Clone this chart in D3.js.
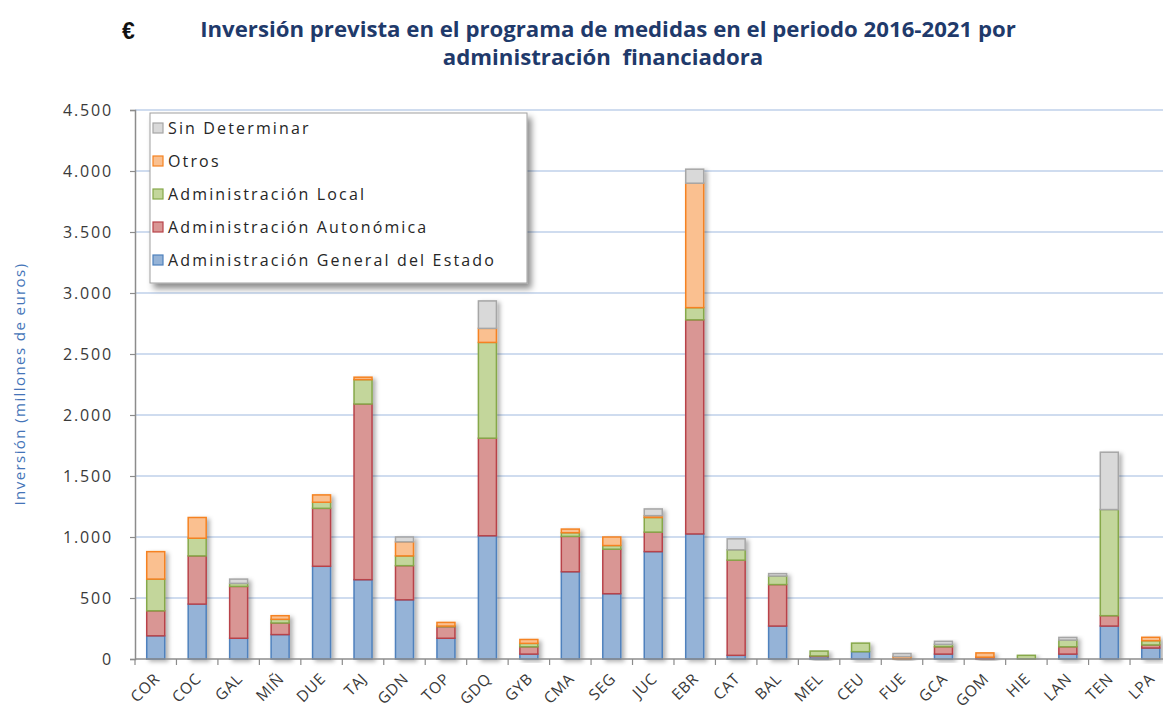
<!DOCTYPE html>
<html><head><meta charset="utf-8">
<script src="https://cdn.jsdelivr.net/npm/d3@7"></script>
<style>body{margin:0;background:#fff}svg{display:block}</style>
</head><body>
<svg id="chart" width="1163" height="713"></svg>
<script>
// Cuencas / demarcaciones
const categories = ["COR","COC","GAL","MIÑ","DUE","TAJ","GDN","TOP","GDQ","GYB","CMA","SEG","JUC","EBR","CAT","BAL","MEL","CEU","FUE","GCA","GOM","HIE","LAN","TEN","LPA"];

// Inversión prevista 2016-2021 (millones de euros) por administración financiadora
const estado      = [190, 450, 170, 200, 760, 650, 485, 170, 1010, 40, 715, 535, 880, 1025, 30, 270, 20, 60, 0, 40, 0, 0, 40, 270, 90];
const autonomica  = [205, 395, 425, 95, 475, 1440, 280, 95, 800, 60, 290, 365, 160, 1755, 780, 340, 5, 0, 0, 60, 15, 0, 60, 85, 25];
const local       = [260, 145, 25, 30, 50, 200, 80, 5, 785, 28, 30, 30, 120, 100, 85, 70, 40, 70, 0, 20, 0, 30, 55, 870, 35];
const otros       = [225, 170, 0, 30, 60, 20, 115, 30, 115, 32, 30, 70, 15, 1020, 0, 0, 0, 0, 20, 0, 35, 0, 0, 0, 28];
const sinDeterminar = [0, 0, 35, 0, 0, 0, 40, 0, 225, 0, 0, 0, 55, 115, 90, 20, 0, 0, 25, 25, 0, 0, 22, 470, 0];

const seriesKeys = ["estado","autonomica","local","otros","sinDet"];
const seriesLabels = ["Administración General del Estado","Administración Autonómica","Administración Local","Otros","Sin Determinar"];
const fills   = ["#95B3D7","#D99694","#C3D69B","#FAC090","#D9D9D9"];
const strokes = ["#4F81BD","#B8434A","#86A84A","#F58220","#A6A6A6"];

const yTicks = [0,500,1000,1500,2000,2500,3000,3500,4000,4500];
const titleLines = ["Inversión prevista en el programa de medidas en el periodo 2016-2021 por","administración  financiadora"];
const yTitle = "Inversión (millones de euros)";

const FONT = "Open Sans, sans-serif";
const svg = d3.select("#chart");
const defs = svg.append("defs");
defs.append("filter").attr("id","barShadow").attr("x","-30%").attr("y","-10%").attr("width","180%").attr("height","130%")
  .append("feDropShadow").attr("dx",3).attr("dy",2).attr("stdDeviation",2)
  .attr("flood-color","#000").attr("flood-opacity",0.3);
defs.append("filter").attr("id","legendShadow").attr("x","-10%").attr("y","-10%").attr("width","130%").attr("height","140%")
  .append("feDropShadow").attr("dx",4).attr("dy",5).attr("stdDeviation",3)
  .attr("flood-color","#000").attr("flood-opacity",0.45);

// spread the letters of a text selection so its longest entry spans `width` px
function spreadTo(sel, width) {
  let maxW = 0, maxN = 1;
  sel.each(function() {
    const w = this.getComputedTextLength();
    if (w > maxW) { maxW = w; maxN = this.textContent.length; }
  });
  sel.attr("letter-spacing", (width - maxW) / maxN);
}

const plotLeft = 135, plotBottom = 659, plotTop = 110;
const step = 41.46, bw = 18;
const pin = 1 - bw / step;
const x = d3.scaleBand().domain(categories).range([plotLeft, plotLeft + step * categories.length])
  .paddingInner(pin).paddingOuter(pin / 2);
const y = d3.scaleLinear().domain([0, 4500]).range([plotBottom, plotTop]);

const loc = d3.formatLocale({decimal:",", thousands:".", grouping:[3], currency:["","€"]});
const fmt = loc.format(",d");

// gridlines
svg.append("g").selectAll("line").data(yTicks.filter(d => d > 0)).join("line")
  .attr("x1", plotLeft).attr("x2", 1163).attr("y1", d => y(d)).attr("y2", d => y(d))
  .attr("stroke", "#BFD0EA").attr("stroke-width", 1.3);

// y axis
const yAxis = svg.append("g").attr("transform", `translate(${plotLeft},0)`)
  .call(d3.axisLeft(y).tickValues(yTicks).tickFormat(fmt).tickSize(5).tickPadding(17));
yAxis.select(".domain").attr("stroke", "#8C8C8C").attr("stroke-width", 1.5);
yAxis.selectAll(".tick line").attr("stroke", "#8C8C8C").attr("stroke-width", 1.2);
const yLabels = yAxis.selectAll(".tick text").attr("font-family", FONT).attr("font-size", 16)
  .attr("fill", "#3a3a3a");
spreadTo(yLabels, 50);

// stacked bars
const rows = categories.map((c, i) => ({cat: c, estado: estado[i], autonomica: autonomica[i], local: local[i], otros: otros[i], sinDet: sinDeterminar[i]}));
const stacked = d3.stack().keys(seriesKeys)(rows);
const barGroups = svg.append("g").selectAll("g").data(rows).join("g").attr("filter", "url(#barShadow)");
barGroups.each(function(row, i) {
  const segs = stacked.map((s, k) => ({k, y0: s[i][0], y1: s[i][1]})).filter(d => d.y1 - d.y0 > 0);
  d3.select(this).selectAll("rect").data(segs).join("rect")
    .attr("x", x(row.cat)).attr("width", x.bandwidth())
    .attr("y", d => y(d.y1)).attr("height", d => y(d.y0) - y(d.y1))
    .attr("fill", d => fills[d.k]).attr("stroke", d => strokes[d.k]).attr("stroke-width", 1.5);
});

// x axis
const xg = svg.append("g").attr("transform", `translate(0,${plotBottom})`);
xg.append("line").attr("x1", plotLeft).attr("x2", 1163).attr("stroke", "#8C8C8C").attr("stroke-width", 1.5);
xg.selectAll("line.tk").data(d3.range(categories.length + 1)).join("line").attr("class", "tk")
  .attr("x1", i => plotLeft + i * x.step()).attr("x2", i => plotLeft + i * x.step())
  .attr("y1", 0).attr("y2", 6).attr("stroke", "#8C8C8C").attr("stroke-width", 1.2);
xg.selectAll("text").data(categories).join("text")
  .attr("transform", d => `translate(${x(d) + x.bandwidth() / 2 + 1},${17}) rotate(-45)`)
  .attr("text-anchor", "end").attr("dy", "0.35em")
  .attr("font-family", FONT).attr("font-size", 15.5).attr("letter-spacing", 0.6)
  .attr("fill", "#3a3a3a").text(d => d);

// y axis title
const yt = svg.append("text").attr("transform", "translate(25,384) rotate(-90)").attr("text-anchor", "middle")
  .attr("font-family", FONT).attr("font-size", 15)
  .attr("fill", "#4474B8").text(yTitle);
spreadTo(yt, 243);

// title
svg.append("text").attr("x", 122).attr("y", 39).attr("font-family", "Liberation Sans, sans-serif")
  .attr("font-weight", "bold").attr("font-size", 23).attr("fill", "#111").text("€");
const titleSize = 22;
const tg = svg.append("g");
const t1 = tg.append("text").attr("text-anchor", "middle")
  .attr("font-family", FONT).attr("font-weight", "bold").attr("font-size", titleSize)
  .attr("fill", "#1F3A6B").text(titleLines[0]);
const sx = 816 / t1.node().getComputedTextLength();
t1.attr("transform", `translate(608,37) scale(${sx},1)`);
tg.append("text").attr("text-anchor", "middle").attr("transform", `translate(603,65) scale(${sx},1)`)
  .attr("font-family", FONT).attr("font-weight", "bold").attr("font-size", titleSize)
  .attr("fill", "#1F3A6B").style("white-space", "pre").text(titleLines[1]);

// legend
const lg = svg.append("g");
lg.append("rect").attr("x", 150).attr("y", 113).attr("width", 377).attr("height", 170)
  .attr("fill", "#fff").attr("stroke", "#A0A0A0").attr("stroke-width", 1).attr("filter", "url(#legendShadow)");
const order = [4, 3, 2, 1, 0];
const items = lg.selectAll("g.item").data(order).join("g").attr("class", "item")
  .attr("transform", (k, j) => `translate(0,${128 + j * 33})`);
items.append("rect").attr("x", 153).attr("y", -5).attr("width", 10).attr("height", 10)
  .attr("fill", k => fills[k]).attr("stroke", k => strokes[k]).attr("stroke-width", 1.2);
const lt = items.append("text").attr("x", 168).attr("y", 6)
  .attr("font-family", FONT).attr("font-size", 16).attr("fill", "#262626")
  .text(k => seriesLabels[k]);
spreadTo(lt, 328);
</script>
</body></html>
